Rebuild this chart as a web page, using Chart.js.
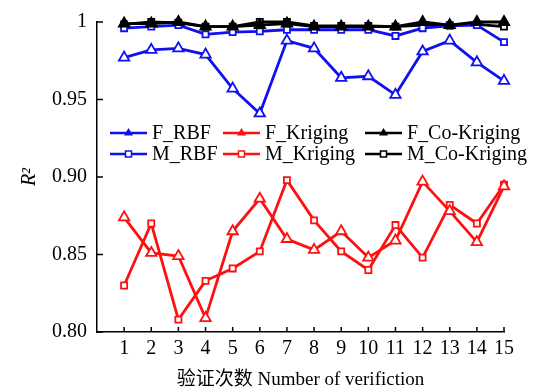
<!DOCTYPE html>
<html>
<head>
<meta charset="utf-8">
<script src="https://cdn.jsdelivr.net/npm/chart.js@4.4.0/dist/chart.umd.min.js"></script>
<style>
  html, body { margin: 0; padding: 0; background: #fff; }
</style>
</head>
<body>
<canvas id="r2-chart" width="539" height="389"></canvas>
<script>
// verification runs and R² of each surrogate model
const verification = [1, 2, 3, 4, 5, 6, 7, 8, 9, 10, 11, 12, 13, 14, 15];
const fRbf        = [0.977, 0.982, 0.983, 0.979, 0.957, 0.941, 0.988, 0.983, 0.964, 0.965, 0.953, 0.981, 0.988, 0.974, 0.962];
const fKriging    = [0.874, 0.851, 0.849, 0.809, 0.865, 0.886, 0.860, 0.853, 0.865, 0.848, 0.859, 0.897, 0.878, 0.858, 0.894];
const fCoKriging  = [0.999, 0.999, 1.000, 0.997, 0.997, 0.998, 0.999, 0.997, 0.997, 0.997, 0.997, 1.000, 0.998, 1.000, 1.000];
const mRbf        = [0.996, 0.997, 0.998, 0.992, 0.9935, 0.994, 0.995, 0.995, 0.995, 0.995, 0.991, 0.996, 0.9975, 0.998, 0.987];
const mKriging    = [0.830, 0.870, 0.808, 0.833, 0.841, 0.852, 0.898, 0.872, 0.852, 0.840, 0.869, 0.848, 0.882, 0.870, 0.895];
const mCoKriging  = [0.9985, 1.000, 0.9995, 0.997, 0.997, 1.000, 1.000, 0.9975, 0.9975, 0.9975, 0.997, 0.998, 0.998, 0.9985, 0.997];
const yTicks = [0.80, 0.85, 0.90, 0.95, 1.00];

const serif = "'Liberation Serif', 'Times New Roman', 'Noto Sans CJK SC', serif";

function points(values) {
    return values.map(function(v, i) { return { x: verification[i], y: v }; });
}

function series(label, values, color, style, fill) {
    return {
        label: label,
        data: points(values),
        borderColor: color,
        borderWidth: 2.8,
        pointStyle: style,
        pointRadius: style === "triangle" ? 6 : 4.3,
        pointBorderWidth: 1.8,
        pointBorderColor: color,
        pointBackgroundColor: fill,
        clip: false,
        tension: 0
    };
}

// ticks pointing into the plot
const inwardTicks = {
    id: "inwardTicks",
    afterDraw(chart) {
        const ctx = chart.ctx, xs = chart.scales.x, ys = chart.scales.y;
        ctx.save();
        ctx.strokeStyle = "#000";
        ctx.lineWidth = 1.5;
        ctx.beginPath();
        yTicks.forEach(function(v) {
            const py = ys.getPixelForValue(v);
            ctx.moveTo(xs.left, py);
            ctx.lineTo(xs.left + 6, py);
        });
        verification.forEach(function(v) {
            const px = xs.getPixelForValue(v);
            ctx.moveTo(px, ys.bottom);
            ctx.lineTo(px, ys.bottom - 5);
        });
        ctx.stroke();
        ctx.restore();
    }
};

// legend inside the plot, 3 columns x 2 rows
const innerLegend = {
    id: "innerLegend",
    afterDraw(chart) {
        const ctx = chart.ctx;
        const cols = [110, 223, 365];
        const rows = [133, 154];
        ctx.save();
        ctx.font = "20px " + serif;
        ctx.textBaseline = "middle";
        ctx.fillStyle = "#000";
        chart.data.datasets.forEach(function(ds, i) {
            const x = cols[i % 3], y = rows[Math.floor(i / 3)];
            ctx.strokeStyle = ds.borderColor;
            ctx.lineWidth = 2.5;
            ctx.beginPath();
            ctx.moveTo(x, y);
            ctx.lineTo(x + 37, y);
            ctx.stroke();
            const cx = x + 18.5;
            ctx.lineWidth = 1.5;
            ctx.fillStyle = ds.borderColor;
            ctx.beginPath();
            if (ds.pointStyle === "triangle") {
                ctx.moveTo(cx, y - 5);
                ctx.lineTo(cx + 4.5, y + 2.5);
                ctx.lineTo(cx - 4.5, y + 2.5);
                ctx.closePath();
                ctx.fill();
            } else {
                ctx.fillStyle = "#fff";
                ctx.rect(cx - 3, y - 3, 6, 6);
                ctx.fill();
                ctx.stroke();
            }
            ctx.fillStyle = "#000";
            ctx.fillText(ds.label, x + 42, y + 1);
        });
        ctx.restore();
    }
};

const ctx = document.getElementById("r2-chart").getContext("2d");
new Chart(ctx, {
    type: "line",
    data: {
        datasets: [
            series("F_RBF", fRbf, "#1010f0", "triangle", "#fff"),
            series("F_Kriging", fKriging, "#ff1010", "triangle", "#fff"),
            series("F_Co-Kriging", fCoKriging, "#000", "triangle", "#000"),
            series("M_RBF", mRbf, "#1010f0", "rect", "#fff"),
            series("M_Kriging", mKriging, "#ff1010", "rect", "#fff"),
            series("M_Co-Kriging", mCoKriging, "#000", "rect", "#fff")
        ]
    },
    options: {
        responsive: false,
        animation: false,
        events: [],
        layout: { padding: { top: 18, right: 35, left: 0, bottom: 0 } },
        plugins: {
            legend: { display: false },
            tooltip: { enabled: false }
        },
        scales: {
            x: {
                type: "linear",
                min: 0,
                max: 15,
                afterFit: function(s) { s.height = 57; },
                afterBuildTicks: function(s) {
                    s.ticks = verification.map(function(v) { return { value: v }; });
                },
                border: { display: true, color: "#000", width: 1.5 },
                grid: { display: false, drawTicks: false },
                ticks: {
                    padding: 5,
                    color: "#000",
                    font: { family: serif, size: 20 },
                    maxRotation: 0,
                    autoSkip: false
                },
                title: {
                    display: true,
                    text: "验证次数 Number of verifiction",
                    color: "#000",
                    font: { family: serif, size: 19 },
                    padding: { top: 0, bottom: -2 }
                }
            },
            y: {
                min: 0.8,
                max: 1,
                afterFit: function(s) { s.width = 97; },
                afterBuildTicks: function(s) {
                    s.ticks = yTicks.map(function(v) { return { value: v }; });
                },
                border: { display: true, color: "#000", width: 1.5 },
                grid: { display: false, drawTicks: false },
                ticks: {
                    padding: 10,
                    color: "#000",
                    font: { family: serif, size: 20 },
                    callback: function(v) { return Math.abs(v - 1) < 1e-9 ? "1" : v.toFixed(2); }
                },
                title: {
                    display: true,
                    text: "R²",
                    color: "#000",
                    font: { family: serif, size: 20, style: "italic" },
                    padding: { top: 18, bottom: 0 }
                }
            }
        }
    },
    plugins: [inwardTicks, innerLegend]
});
</script>
</body>
</html>
